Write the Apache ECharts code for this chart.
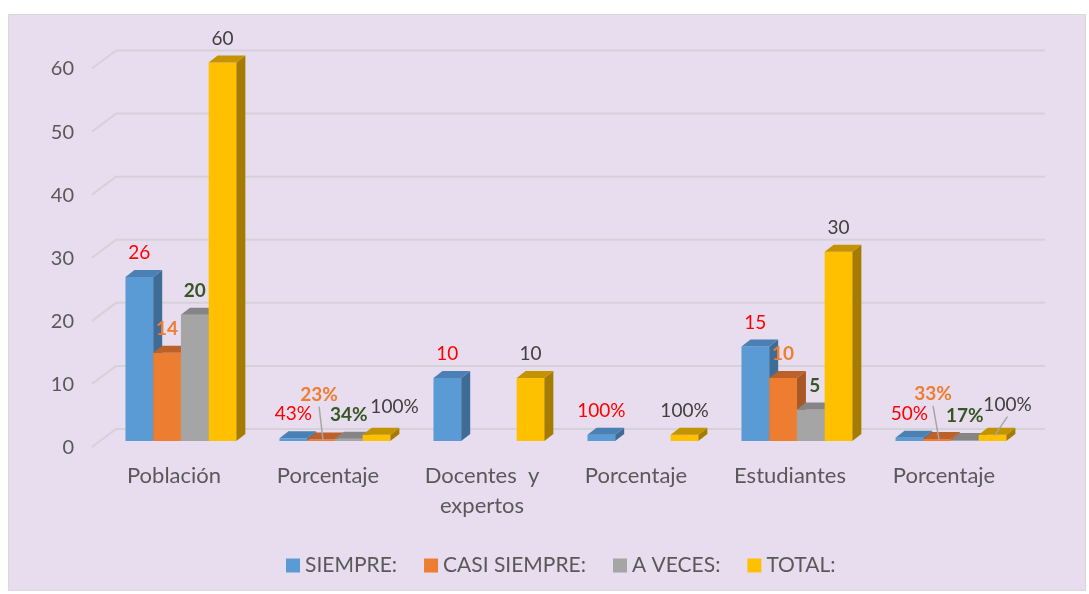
<!DOCTYPE html>
<html>
<head>
<meta charset="utf-8">
<script src="https://cdn.jsdelivr.net/npm/echarts@6/dist/echarts.min.js"></script>
<style>
  html, body { margin: 0; padding: 0; background: #fff; }
  #frame { position: absolute; left: 8px; top: 14px; width: 1076px; height: 575px; background: #E7DDEE; border: 1px solid #D9D9D9; }
  #chart { position: absolute; left: 0; top: 0; width: 1089px; height: 594px; }
</style>
</head>
<body>
<div id="frame"></div>
<div id="chart"></div>
<script>
// datos
var categories = ['Población', 'Porcentaje', 'Docentes  y\nexpertos', 'Porcentaje', 'Estudiantes', 'Porcentaje'];
var siempre = [26, 0.43, 10, 1.00, 15, 0.50];
var casiSiempre = [14, 0.23, null, null, 10, 0.33];
var aVeces = [20, 0.34, null, null, 5, 0.17];
var total = [60, 1.00, 10, 1.00, 30, 1.00];
var yTicks = [0, 10, 20, 30, 40, 50, 60];

var FONT = 'Lato, "Noto Sans", sans-serif';

// colores de cada serie (frente, lado, tapa, etiqueta)
var styles = [
  { name: 'SIEMPRE:', data: siempre, color: '#5B9BD5', side: '#3F6C97', top: '#4A80B3', label: '#FF0000', bold: 'normal' },
  { name: 'CASI SIEMPRE:', data: casiSiempre, color: '#ED7D31', side: '#A85824', top: '#BC6129', label: '#ED7D31', bold: 'bold' },
  { name: 'A VECES:', data: aVeces, color: '#A5A5A5', side: '#767676', top: '#858585', label: '#375623', bold: 'bold' },
  { name: 'TOTAL:', data: total, color: '#FFC000', side: '#A67C00', top: '#C49300', label: '#404040', bold: 'normal' }
];

// ajustes de etiquetas que Excel separó a mano: [dx, dy, línea guía]
var labelNudge = {
  '1-1': [-2, -21, true],
  '1-3': [18, -4, false],
  '4-2': [4, 0, false],
  '5-1': [-4, -21, true],
  '5-3': [15, -6, true]
};

var DX = 9, DY = -7;

function barRender(si) {
  return function (params, api) {
    var cat = api.value(0), val = api.value(1);
    var topP = api.coord([cat, val]);
    var baseP = api.coord([cat, 0]);
    var band = api.size([1, 0])[0];
    var w = band * 0.18;
    var x0 = topP[0] + band * 0.045 - 2 * w + si * w;
    var yt = topP[1], yb = baseP[1];
    var s = styles[si];
    var isPct = categories[cat] === 'Porcentaje';
    var txt = isPct ? Math.round(val * 100) + '%' : String(val);
    var nd = labelNudge[cat + '-' + si] || [0, 0, false];
    var lx = x0 + w / 2 + nd[0], ly = yt - 24 + nd[1];
    var children = [
      { type: 'rect', shape: { x: x0, y: yt, width: w, height: yb - yt }, style: { fill: s.color } },
      { type: 'polygon', shape: { points: [[x0 + w, yt], [x0 + w + DX, yt + DY], [x0 + w + DX, yb + DY], [x0 + w, yb]] }, style: { fill: s.side } },
      { type: 'polygon', shape: { points: [[x0, yt], [x0 + DX, yt + DY], [x0 + w + DX, yt + DY], [x0 + w, yt]] }, style: { fill: s.top } }
    ];
    if (nd[2]) {
      children.push({ type: 'line', shape: { x1: lx, y1: ly + 12, x2: x0 + w / 2 + 2, y2: yt + 1 },
        style: { stroke: '#A6A6A6', lineWidth: 1.5 } });
    }
    children.push({ type: 'text', style: { text: txt, x: lx, y: ly, align: 'center', verticalAlign: 'middle',
      fill: s.label, fontSize: 19, fontWeight: s.bold, fontFamily: FONT } });
    return { type: 'group', children: children };
  };
}

function toPairs(arr) {
  var out = [];
  arr.forEach(function (v, i) { if (v !== null) out.push([i, v]); });
  return out;
}

var series = [{
  type: 'custom',
  name: 'grid',
  silent: true,
  clip: false,
  z: 1,
  data: yTicks.map(function (v) { return [0, v]; }),
  renderItem: function (params, api) {
    var p = api.coord([0, api.value(1)]);
    var cs = params.coordSys;
    var y = p[1];
    return {
      type: 'polyline',
      shape: { points: [[cs.x - 5, y + 6], [cs.x + 19, y - 12], [cs.x + cs.width + 24, y - 12]] },
      style: { stroke: '#D5D1D8', lineWidth: 2, fill: null }
    };
  }
}];

styles.forEach(function (s, si) {
  series.push({
    type: 'custom',
    name: s.name,
    clip: false,
    z: 2,
    itemStyle: { color: s.color },
    data: toPairs(s.data),
    renderItem: barRender(si)
  });
});

var chart = echarts.init(document.getElementById('chart'));
chart.setOption({
  animation: false,
  grid: { left: 97, right: 68, top: 62.5, bottom: 153 },
  xAxis: {
    type: 'category',
    data: categories,
    axisLine: { show: false },
    axisTick: { show: false },
    axisLabel: { color: '#595959', fontSize: 22, fontFamily: FONT, lineHeight: 30, margin: 20, interval: 0 }
  },
  yAxis: {
    type: 'value',
    min: 0,
    max: 60,
    interval: 10,
    axisLine: { show: false },
    axisTick: { show: false },
    splitLine: { show: false },
    axisLabel: { color: '#595959', fontSize: 20, fontFamily: FONT, margin: 23, verticalAlign: 'top', lineHeight: 13 }
  },
  legend: {
    left: 286,
    top: 555,
    padding: 0,
    icon: 'rect',
    itemWidth: 14,
    itemHeight: 14,
    itemGap: 27,
    data: styles.map(function (s) { return s.name; }),
    textStyle: { color: '#595959', fontSize: 21, fontFamily: FONT }
  },
  series: series
});
</script>
</body>
</html>
